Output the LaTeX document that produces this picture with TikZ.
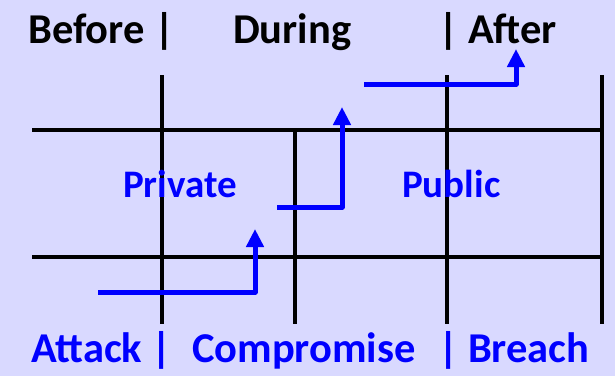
\documentclass[tikz,border=0pt]{standalone}
\usepackage{fontspec}
\setmainfont{Carlito}
\usetikzlibrary{arrows.meta}
\usetikzlibrary{positioning}
\definecolor{lavbg}{RGB}{217,217,255}

\begin{document}
\begin{tikzpicture}[line cap=butt,line join=round,x=1pt,y=-1pt,
  grid/.style={line width=4pt,color=black},
  flow/.style={line width=5pt,color=blue,-{Triangle[width=17pt,length=18pt]}},
  lab/.style={font=\fontsize{42.5}{46}\selectfont\bfseries,inner sep=0pt,anchor=base west},
  zone/.style={lab,blue,font=\fontsize{39}{44}\selectfont\bfseries}]
\fill[lavbg] (0,0) rectangle (615,376);
\useasboundingbox (0,0) rectangle (615,376);
% grid
\foreach \y in {130,257}
\draw[grid] (32,\y) -- (602,\y);
\foreach \x in {162,447,602}
\draw[grid] (\x,75) -- (\x,324);
\draw[grid] (295,130) -- (295,324);
% stages
\node[lab] (before) at (28,43) {Before |};
\node[lab] (during) at (233,43) {During};
\node[lab] (after) at (438,43) {| After};
\node[zone] (private) at (123,197) {Private};
\node[zone] (public) at (402,197) {Public};
\node[lab,blue] (attack) at (31,362) {Attack |};
\node[lab,blue] (compromise) at (192,362) {Compromise};
\node[lab,blue] (breach) at (438,362) {| Breach};
% steps
\coordinate (s1) at (98,292);
\coordinate (e1) at (255,229);
\coordinate (s2) at (277,207);
\coordinate (e2) at (342,107);
\coordinate (s3) at (364,84);
\coordinate (e3) at (516,49);
\draw[flow] (s1) -| (e1);
\draw[flow] (s2) -| (e2);
\draw[flow] (s3) -| (e3);
\end{tikzpicture}
\end{document}
